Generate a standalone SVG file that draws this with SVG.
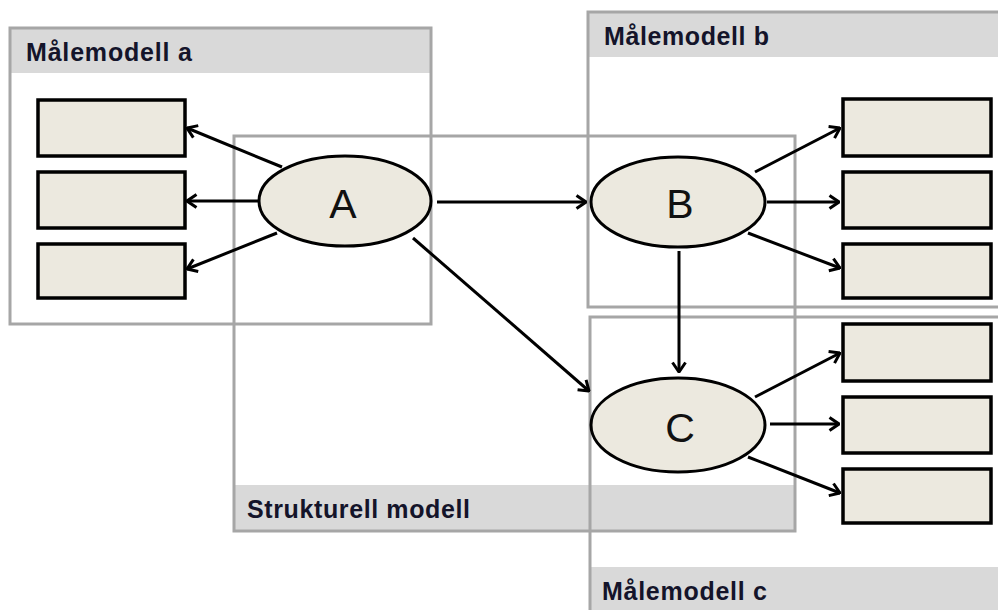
<svg xmlns="http://www.w3.org/2000/svg" width="998" height="610" viewBox="0 0 998 610">
  <style>
    .frame { fill: none; stroke: #a6a6a6; stroke-width: 3; }
    .band { fill: #d9d9d9; stroke: none; }
    .title { font-family: "Liberation Sans", Arial, sans-serif; font-weight: bold; font-size: 25px; fill: #14142a; }
    .ind { fill: #ece9df; stroke: #000; stroke-width: 3.5; }
    .lat { fill: #ece9df; stroke: #000; stroke-width: 3; }
    .lbl { font-family: "Liberation Sans", Arial, sans-serif; font-size: 41px; fill: #111; text-anchor: middle; }
    .edge { fill: none; stroke: #000; stroke-width: 3; marker-end: url(#arrow); }
  </style>
  <defs>
    <marker id="arrow" viewBox="0 0 12 16" refX="11" refY="8" markerWidth="12" markerHeight="16" markerUnits="userSpaceOnUse" orient="auto">
      <path d="M1.5,1.5 L11,8 L1.5,14.5" fill="none" stroke="#000" stroke-width="3"/>
    </marker>
  </defs>

  <rect width="998" height="610" fill="#fff"/>

  <!-- grouping frames -->
  <g id="frame-a">
    <rect class="band" x="10" y="28" width="421" height="45"/>
    <rect class="frame" x="10" y="28" width="421" height="296"/>
    <text class="title" x="26" y="61" textLength="166" lengthAdjust="spacing">Målemodell a</text>
  </g>
  <g id="frame-b">
    <rect class="band" x="588" y="12" width="420" height="45"/>
    <rect class="frame" x="588" y="12" width="420" height="295"/>
    <text class="title" x="604" y="45" textLength="165" lengthAdjust="spacing">Målemodell b</text>
  </g>
  <g id="frame-structural">
    <rect class="band" x="234" y="485" width="561" height="46"/>
    <rect class="frame" x="234" y="136" width="561" height="395"/>
    <text class="title" x="247" y="518" textLength="223" lengthAdjust="spacing">Strukturell modell</text>
  </g>
  <g id="frame-c">
    <rect class="band" x="590" y="567" width="420" height="50"/>
    <rect class="frame" x="590" y="317" width="420" height="300"/>
    <text class="title" x="602" y="600" textLength="165" lengthAdjust="spacing">Målemodell c</text>
  </g>

  <!-- connectors -->
  <g id="connectors">
    <line class="edge" x1="282" y1="167" x2="187" y2="128"/>
    <line class="edge" x1="258" y1="201" x2="187" y2="201"/>
    <line class="edge" x1="277" y1="233" x2="187" y2="269"/>
    <line class="edge" x1="437" y1="202" x2="586" y2="202"/>
    <line class="edge" x1="413" y1="238" x2="589" y2="391"/>
    <line class="edge" x1="679" y1="251" x2="679" y2="372"/>
    <line class="edge" x1="755" y1="172" x2="840" y2="128"/>
    <line class="edge" x1="767" y1="202" x2="839" y2="202"/>
    <line class="edge" x1="748" y1="233" x2="840" y2="268"/>
    <line class="edge" x1="755" y1="397" x2="840" y2="353"/>
    <line class="edge" x1="770" y1="424" x2="839" y2="424"/>
    <line class="edge" x1="748" y1="457" x2="840" y2="493"/>
  </g>

  <!-- indicators -->
  <g id="a1"><rect class="ind" x="38" y="100" width="147" height="56"/></g>
  <g id="a2"><rect class="ind" x="38" y="172" width="147" height="56"/></g>
  <g id="a3"><rect class="ind" x="38" y="244" width="147" height="54"/></g>
  <g id="b1"><rect class="ind" x="843" y="99" width="148" height="57"/></g>
  <g id="b2"><rect class="ind" x="843" y="172" width="148" height="56"/></g>
  <g id="b3"><rect class="ind" x="843" y="244" width="148" height="54"/></g>
  <g id="c1"><rect class="ind" x="843" y="324" width="148" height="57"/></g>
  <g id="c2"><rect class="ind" x="843" y="397" width="148" height="56"/></g>
  <g id="c3"><rect class="ind" x="843" y="469" width="148" height="54"/></g>

  <!-- latent variables -->
  <g id="A">
    <ellipse class="lat" cx="345" cy="201" rx="86" ry="45"/>
    <text class="lbl" x="343" y="218">A</text>
  </g>
  <g id="B">
    <ellipse class="lat" cx="678" cy="202" rx="87" ry="45"/>
    <text class="lbl" x="680" y="218">B</text>
  </g>
  <g id="C">
    <ellipse class="lat" cx="678" cy="425" rx="87" ry="47"/>
    <text class="lbl" x="680" y="442">C</text>
  </g>
</svg>
